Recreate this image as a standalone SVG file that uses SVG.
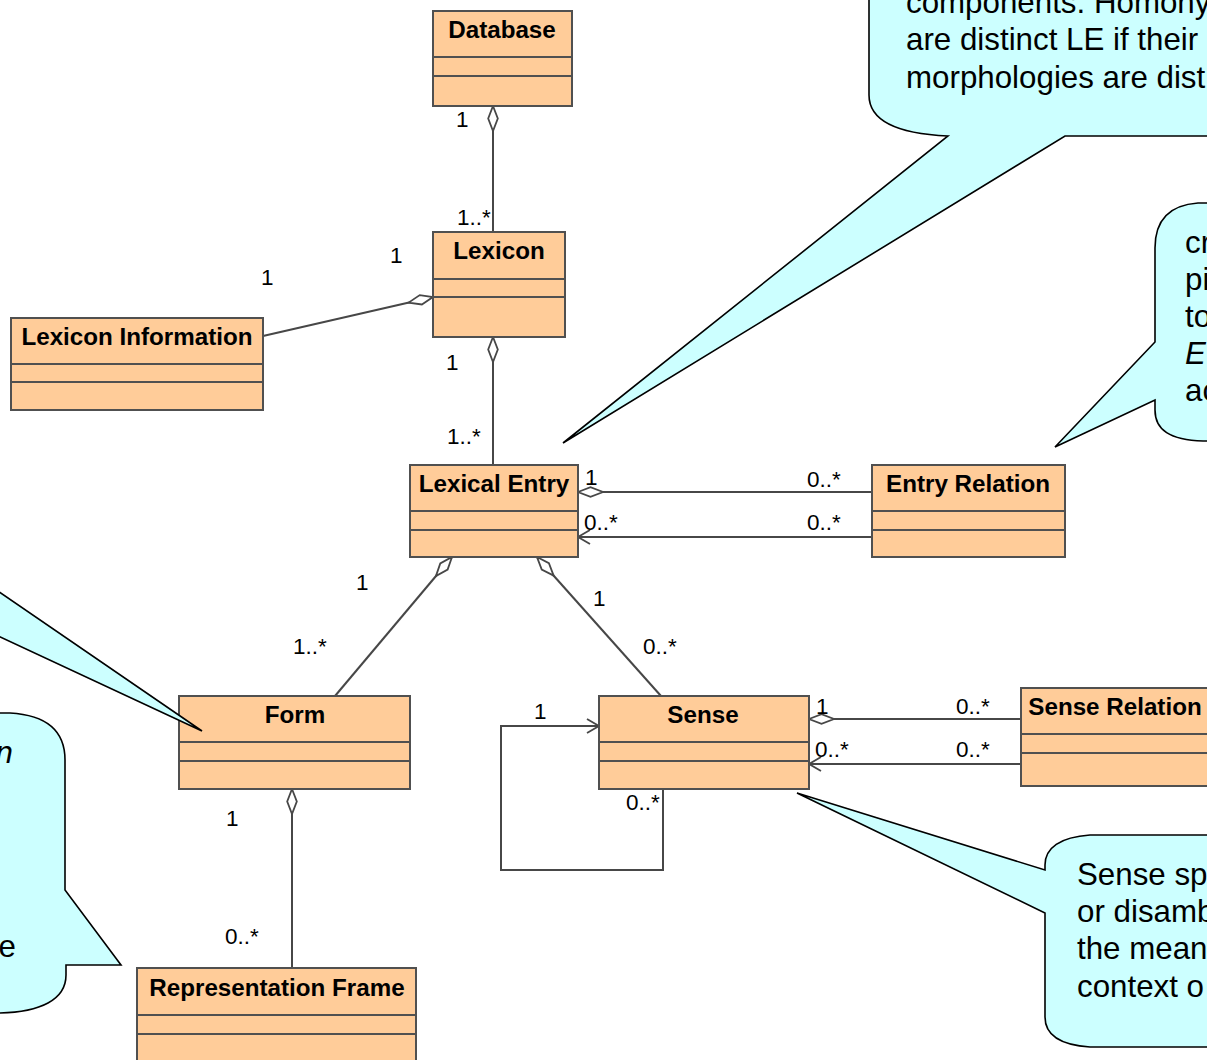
<svg xmlns="http://www.w3.org/2000/svg" width="1207" height="1060" viewBox="0 0 1207 1060">
  <style>
    .box { fill: #ffcc99; stroke: #505050; stroke-width: 2; }
    .div { stroke: #505050; stroke-width: 2; fill: none; }
    .title { font-family: "Liberation Sans", Arial, sans-serif; font-weight: bold; font-size: 24.2px; fill: #000; text-anchor: middle; }
    .mult { font-family: "Liberation Sans", Arial, sans-serif; font-size: 22.5px; fill: #000; }
    .conn { stroke: #474747; stroke-width: 2; fill: none; }
    .agg { marker-start: url(#diamond); }
    .nav { marker-end: url(#arrow); }
    .note { fill: #ccffff; stroke: #000; stroke-width: 1.6; stroke-linejoin: miter; }
    .noteText { font-family: "Liberation Sans", Arial, sans-serif; font-size: 31.3px; fill: #000; }
  </style>
  <defs>
    <marker id="diamond" markerUnits="userSpaceOnUse" markerWidth="30" markerHeight="14" refX="0" refY="7" viewBox="0 0 30 14" orient="auto" overflow="visible">
      <path d="M0,7 L12.5,2.2 L25,7 L12.5,11.8 Z" fill="#fff" stroke="#474747" stroke-width="1.8"/>
    </marker>
    <marker id="arrow" markerUnits="userSpaceOnUse" markerWidth="16" markerHeight="16" refX="14" refY="8" viewBox="0 0 16 16" orient="auto" overflow="visible">
      <path d="M2,1 L14,8 L2,15" fill="none" stroke="#474747" stroke-width="1.8"/>
    </marker>
  </defs>

  <!-- associations -->
  <g id="connectors">
    <path class="conn agg" d="M493,106 L493,232"/>
    <path class="conn agg" d="M433,297 L263,336"/>
    <path class="conn agg" d="M493,337 L493,465"/>
    <path class="conn agg" d="M578,492 L872,492"/>
    <path class="conn nav" d="M872,537 L578,537"/>
    <path class="conn agg" d="M452,557 L335,696"/>
    <path class="conn agg" d="M537,557 L661,696"/>
    <path class="conn nav" d="M663,789 L663,870 L501,870 L501,726 L599,726"/>
    <path class="conn agg" d="M809,719 L1021,719"/>
    <path class="conn nav" d="M1021,764 L809,764"/>
    <path class="conn agg" d="M292,789 L292,968"/>

    <text class="mult" x="456" y="127">1</text>
    <text class="mult" x="457" y="225">1..*</text>
    <text class="mult" x="261" y="285">1</text>
    <text class="mult" x="390" y="263">1</text>
    <text class="mult" x="446" y="370">1</text>
    <text class="mult" x="447" y="444">1..*</text>
    <text class="mult" x="585" y="485">1</text>
    <text class="mult" x="807" y="487">0..*</text>
    <text class="mult" x="584" y="530">0..*</text>
    <text class="mult" x="807" y="530">0..*</text>
    <text class="mult" x="356" y="590">1</text>
    <text class="mult" x="293" y="654">1..*</text>
    <text class="mult" x="593" y="606">1</text>
    <text class="mult" x="643" y="654">0..*</text>
    <text class="mult" x="534" y="719">1</text>
    <text class="mult" x="626" y="810">0..*</text>
    <text class="mult" x="816" y="714">1</text>
    <text class="mult" x="956" y="714">0..*</text>
    <text class="mult" x="815" y="757">0..*</text>
    <text class="mult" x="956" y="757">0..*</text>
    <text class="mult" x="226" y="826">1</text>
    <text class="mult" x="225" y="944">0..*</text>
  </g>

  <!-- classes -->
  <g id="database">
    <rect class="box" x="433" y="11" width="139" height="95"/>
    <path class="div" d="M433,57 H572 M433,76 H572"/>
    <text class="title" x="502" y="38">Database</text>
  </g>
  <g id="lexicon">
    <rect class="box" x="433" y="232" width="132" height="105"/>
    <path class="div" d="M433,279 H565 M433,297 H565"/>
    <text class="title" x="499" y="259">Lexicon</text>
  </g>
  <g id="lexicon-information">
    <rect class="box" x="11" y="318" width="252" height="92"/>
    <path class="div" d="M11,364 H263 M11,382 H263"/>
    <text class="title" x="137" y="345">Lexicon Information</text>
  </g>
  <g id="lexical-entry">
    <rect class="box" x="410" y="465" width="168" height="92"/>
    <path class="div" d="M410,511 H578 M410,530 H578"/>
    <text class="title" x="494" y="492">Lexical Entry</text>
  </g>
  <g id="entry-relation">
    <rect class="box" x="872" y="465" width="193" height="92"/>
    <path class="div" d="M872,511 H1065 M872,530 H1065"/>
    <text class="title" x="968" y="492">Entry Relation</text>
  </g>
  <g id="form">
    <rect class="box" x="179" y="696" width="231" height="93"/>
    <path class="div" d="M179,742 H410 M179,761 H410"/>
    <text class="title" x="295" y="723">Form</text>
  </g>
  <g id="sense">
    <rect class="box" x="599" y="696" width="210" height="93"/>
    <path class="div" d="M599,742 H809 M599,761 H809"/>
    <text class="title" x="703" y="723">Sense</text>
  </g>
  <g id="sense-relation">
    <rect class="box" x="1021" y="688" width="195" height="98"/>
    <path class="div" d="M1021,734 H1216 M1021,753 H1216"/>
    <text class="title" x="1115" y="715">Sense Relation</text>
  </g>
  <g id="representation-frame">
    <rect class="box" x="137" y="968" width="279" height="100"/>
    <path class="div" d="M137,1015 H416 M137,1034 H416"/>
    <text class="title" x="277" y="996">Representation Frame</text>
  </g>

  <!-- callout notes, drawn over the classes they point at -->
  <g id="note-lexical-entry">
    <path class="note" d="M869,-20 L869,95 C869,124 903,134 948,136 L563,443 L1065,136 L1220,136 L1220,-20 Z"/>
    <text class="noteText" x="906" y="13">components. Homony</text>
    <text class="noteText" x="906" y="50">are distinct LE if their</text>
    <text class="noteText" x="906" y="88">morphologies are dist</text>
  </g>
  <g id="note-entry-relation">
    <path class="note" d="M1220,203 L1198,203 C1170,205 1155,220 1155,248 L1155,342 L1055,447 L1155,400 L1155,410 C1155,430 1170,440 1203,441 L1220,441 Z"/>
    <text class="noteText" x="1185" y="253">cr</text>
    <text class="noteText" x="1185" y="290">pi</text>
    <text class="noteText" x="1185" y="327">to</text>
    <text class="noteText" x="1185" y="364" font-style="italic">E</text>
    <text class="noteText" x="1185" y="401">ac</text>
  </g>
  <g id="note-form">
    <path class="note" d="M-30,572 L202,731 L-30,623 Z"/>
  </g>
  <g id="note-representation">
    <path class="note" d="M-30,713 L10,713 C45,715 65,730 65,760 L65,890 L121,965 L66,965 L66,975 C66,1000 40,1012 0,1013 L-30,1013 Z"/>
    <text class="noteText" x="13" y="763" text-anchor="end" font-style="italic">n</text>
    <text class="noteText" x="16" y="957" text-anchor="end">e</text>
  </g>
  <g id="note-sense">
    <path class="note" d="M1220,835 L1090,835 C1060,837 1045,848 1045,865 L1045,870 L797,793 L1045,913 L1045,1017 C1045,1035 1060,1045 1090,1047 L1220,1047 Z"/>
    <text class="noteText" x="1077" y="885">Sense sp</text>
    <text class="noteText" x="1077" y="922">or disamb</text>
    <text class="noteText" x="1077" y="959">the mean</text>
    <text class="noteText" x="1077" y="997">context o</text>
  </g>
</svg>
